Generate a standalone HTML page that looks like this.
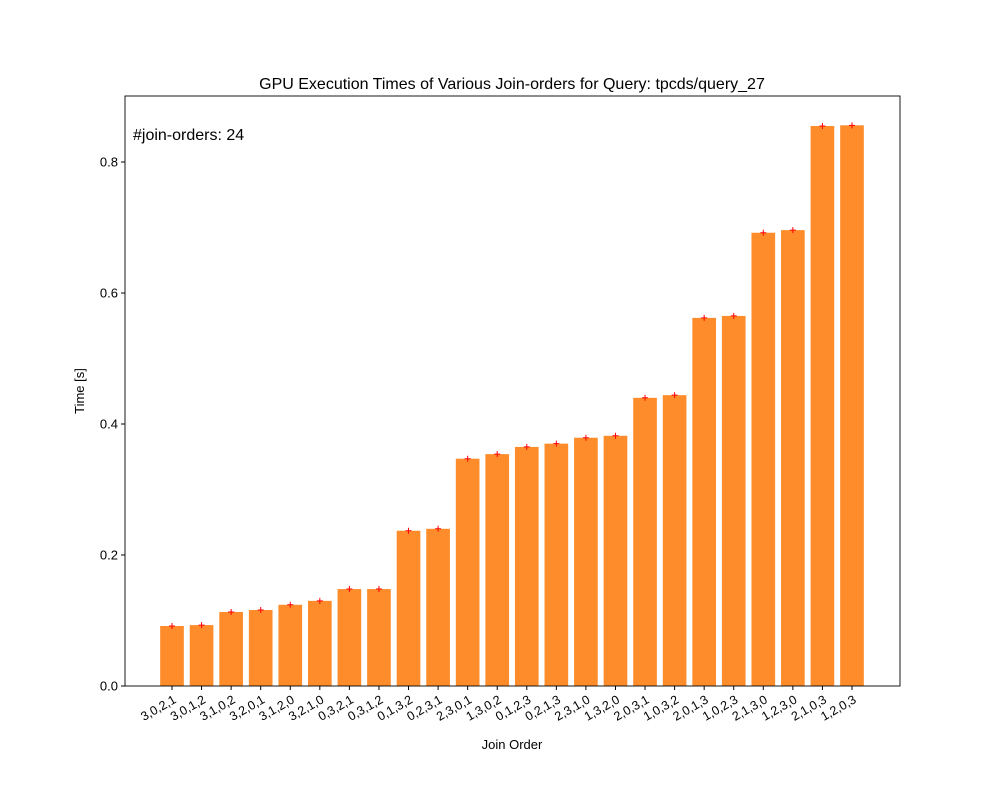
<!DOCTYPE html>
<html><head><meta charset="utf-8"><style>
body{margin:0;background:#fff;}
svg{font-family:"Liberation Sans","DejaVu Sans",sans-serif;}
</style></head><body>
<svg id="chart" width="1000" height="800">
<rect width="1000" height="800" fill="#fff"/>
<text x="512" y="89" font-size="16" text-anchor="middle">GPU Execution Times of Various Join-orders for Query: tpcds/query_27</text>
<text x="133" y="140" font-size="16">#join-orders: 24</text>
<text x="512" y="749" font-size="13" text-anchor="middle">Join Order</text>
<text transform="translate(84,391) rotate(-90)" font-size="13" text-anchor="middle">Time [s]</text>
<g id="bars"></g><g id="marks"></g><g id="axes"></g>
</svg>
<script>
const categories=["3,0,2,1","3,0,1,2","3,1,0,2","3,2,0,1","3,1,2,0","3,2,1,0","0,3,2,1","0,3,1,2","0,1,3,2","0,2,3,1","2,3,0,1","1,3,0,2","0,1,2,3","0,2,1,3","2,3,1,0","1,3,2,0","2,0,3,1","1,0,3,2","2,0,1,3","1,0,2,3","2,1,3,0","1,2,3,0","2,1,0,3","1,2,0,3"];
const times=[0.0916,0.093,0.113,0.116,0.124,0.130,0.148,0.148,0.237,0.240,0.347,0.354,0.365,0.370,0.379,0.382,0.440,0.444,0.562,0.565,0.692,0.696,0.855,0.856];
const yTicks=[0,0.2,0.4,0.6,0.8];
const NS="http://www.w3.org/2000/svg";
const L=125,R=900,T=96,B=686;
const step=29.565;
function xs(i){return 172+i*step;}
function ys(v){return B-v*655;}
function mk(tag,attrs,parent){const e=document.createElementNS(NS,tag);for(const k in attrs)e.setAttribute(k,attrs[k]);parent.appendChild(e);return e;}
const bars=document.getElementById('bars'),marks=document.getElementById('marks'),axes=document.getElementById('axes');
const bw=step*0.8;
times.forEach((v,i)=>{
 const r=mk('rect',{x:xs(i)-bw/2,y:ys(v),width:bw,height:B-ys(v),fill:'#ff8c2a'},bars);
 
 
 const p=mk('path',{d:`M${xs(i)-3},${ys(v)}h6M${xs(i)},${ys(v)-3}v6`,stroke:'#f00','stroke-width':1},marks);
 
 
 mk('line',{x1:xs(i),x2:xs(i),y1:B,y2:B+4,stroke:'#000'},axes);
 const t=mk('text',{transform:`translate(${xs(i)+5},${B+16}) rotate(-30)`,'font-size':12.5,'text-anchor':'end'},axes);
 t.textContent=categories[i];
 
 
});
yTicks.forEach(v=>{
 mk('line',{x1:L-4,x2:L,y1:ys(v),y2:ys(v),stroke:'#000'},axes);
 const t=mk('text',{x:L-7,y:ys(v)+4.5,'font-size':13,'text-anchor':'end'},axes);
 t.textContent=v.toFixed(1);
 
 
});
const f=mk('rect',{x:L,y:T,width:R-L,height:B-T,fill:'none',stroke:'#000','stroke-width':0.9},axes);


</script>
</body></html>
